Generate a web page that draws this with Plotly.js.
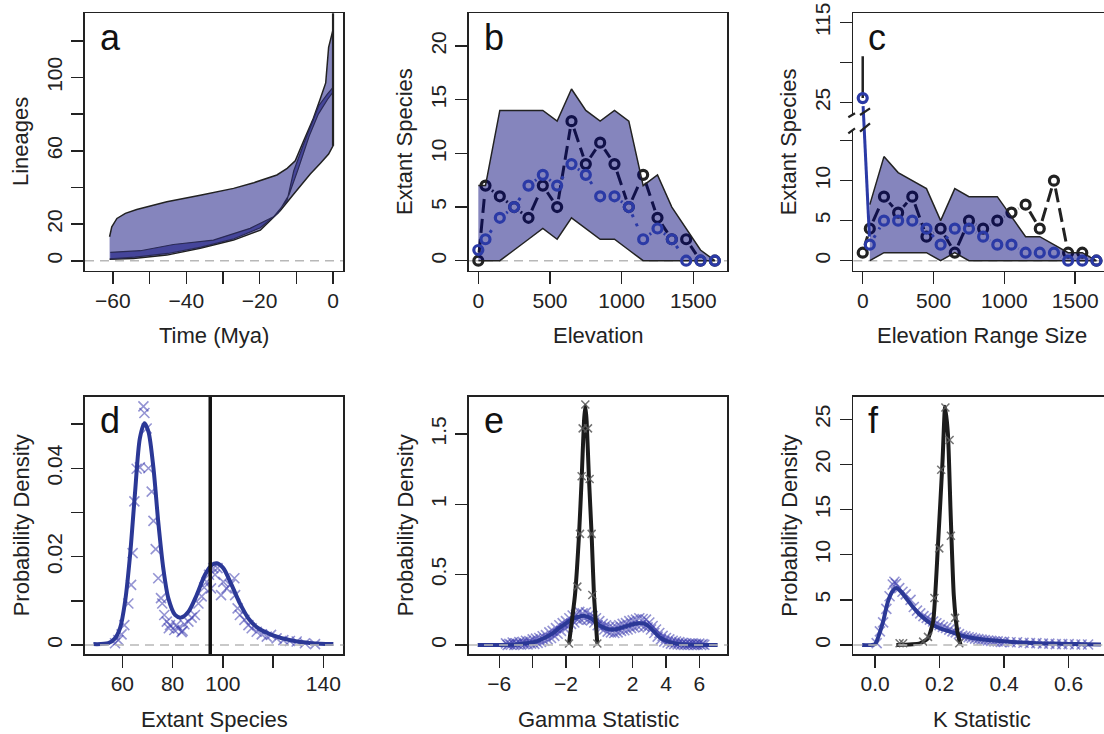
<!DOCTYPE html>
<html><head><meta charset="utf-8">
<script src="https://cdn.plot.ly/plotly-3.0.1.min.js"></script>
<style>html,body{margin:0;padding:0;overflow:hidden;background:#fff}#chart{width:1112px;height:734px}</style>
</head><body><div id="chart"></div>
<script>
// ---------------- DATA ----------------
// Panel a: lineage-through-time envelopes
const aOuterUpperT = [-60.9,-60.3,-58.9,-56.6,-53.5,-45.3,-36.2,-27.1,-21.6,-15.3,-12.5,-10.3,-8.0,-5.5,-3.5,-2.0,-1.2,-0.3,0];
const aOuterUpperN = [13.1,18.5,23.1,25.9,28.0,32.2,35.8,39.5,42.6,46.8,50.4,54.6,65.5,77,88.2,97,116.4,123.7,126];
const aOuterLowerT = [-60.9,-54.4,-45.3,-36.2,-27.1,-19.8,-14.4,-10.7,-6.2,-3.5,-1.2,0];
const aOuterLowerN = [0.8,1.3,3.1,6.8,11.3,16.7,27.3,36.4,47.3,53.1,58.2,62.7];
const aBandUpperT = [-60.7,-52.5,-43.5,-32.6,-22.6,-16.2,-12.5,-10.7,-8.0,-3.9,-1.5,0];
const aBandUpperN = [4.6,5.5,8.9,11.3,17.7,24.0,33,49.1,63.7,84.6,91,94.6];
const aBandLowerT = [-60.7,-54,-45,-36,-27,-19.8,-15,-12,-9.5,-6.5,-4,-1.5,0];
const aBandLowerN = [1,2,4,7.5,12,18,26,36,50,68,80,88,92];
const aObsT = [0,0];
const aObsN = [62.7,200];

// Panel b: species per elevation band
const elevBins = [0,50,150,250,350,450,550,650,750,850,950,1050,1150,1250,1350,1450,1550,1650];
const bObserved = [0,7,6,5,4,7,5,13,9,11,9,5,8,4,2,2,0,0];
const bSimulated = [1,2,4,5,7,8,7,9,8,6,6,5,2,3,2,0,0,0];
const bMax = [7,7,14,14,14,14,13,16,14,13,14,13,7,8,5,3,1,0];
const bMin = [0,0,0,1,2,3,2,4,3,2,2,1,0,0,0,0,0,0];

// Panel c: species per elevation range size
const rangeBins = [0,50,150,250,350,450,550,650,750,850,950,1050,1150,1250,1350,1450,1550,1650];
const cObserved = [1,4,8,6,8,3,4,1,5,4,5,6,7,4,10,1,1,0];
const cSimulated = [30,2,5,5,5,4,2,4,4,3,2,2,1,1,1,0,0,0];
const cEnvBins = [50,150,250,350,450,550,650,750,850,950,1050,1150,1250,1350,1450,1550,1650];
const cMax = [7,13,11,10,9,5,9,8,8,8,5.5,3,3,2,1,1,0];
const cMin = [0,1,1,1,1,0,1,0,0,0,0,0,0,0,0,0,0];
const cSpikeX = [0,0];
const cSpikeY = [77,30];

// Panel d: extant species density
const dCurveX = [48.5,54.4,57.1,59.1,61.1,63.1,65.0,67.0,68.8,70.4,72.4,74.3,76.3,78.3,81.0,83.4,86.3,89.6,92.9,95.6,97.6,100.2,103.5,106.8,110.2,114.1,119.4,127.4,135.4,144.0];
const dCurveY = [0.0002,0.0004,0.0015,0.0038,0.0098,0.0204,0.034,0.0468,0.0502,0.0483,0.040,0.0279,0.0174,0.0106,0.0068,0.0062,0.0075,0.0113,0.0159,0.0181,0.0185,0.0174,0.0136,0.0094,0.006,0.0038,0.0023,0.001,0.0004,0.0002];
const dPtsX = [68.4,68.8,69.7,65.7,67.0,70.4,64.8,71.7,72.4,64.1,73.3,63.5,74.3,62.4,75.4,75.9,60.8,59.7,58.4,57.1,76.7,77.7,79.0,80.7,82.3,83.6,84.7,86.3,87.6,88.9,90.3,91.6,92.6,93.6,94.5,95.3,96.2,96.9,97.9,99.3,100.2,101.5,102.9,104.6,104.9,105.9,106.8,108.6,110.2,111.5,113.5,115.5,117.5,119.2,121.4,124.1,126.7,129.4,132.7,136.7,78.5,81.5,84.0];
const dPtsY = [0.054,0.0525,0.049,0.0399,0.0402,0.040,0.0325,0.0347,0.0281,0.0208,0.0217,0.0136,0.0151,0.0094,0.0106,0.0094,0.0045,0.0024,0.0011,0.0004,0.0068,0.0053,0.0045,0.0034,0.0038,0.0029,0.0047,0.0053,0.0062,0.0068,0.0094,0.011,0.013,0.0143,0.0159,0.0128,0.0174,0.0159,0.0174,0.0113,0.0143,0.0128,0.0136,0.0151,0.0113,0.0083,0.0068,0.0057,0.0045,0.0038,0.003,0.0024,0.0019,0.0023,0.0015,0.0011,0.0009,0.0008,0.0004,0.0002,0.0038,0.0045,0.0032];
const dObserved = 95;

// Panel e: gamma statistic density
const eSimCurveX = [-7.3,-6,-5.2,-4.5,-3.8,-3.3,-2.8,-2.4,-2.0,-1.6,-1.2,-0.9,-0.6,-0.3,0,0.3,0.6,0.9,1.2,1.6,2.0,2.4,2.7,3.0,3.3,3.6,4.0,4.5,5.0,5.5,7.1];
const eSimCurveY = [0,0,0.002,0.01,0.024,0.05,0.083,0.12,0.154,0.185,0.203,0.207,0.195,0.172,0.142,0.122,0.111,0.110,0.118,0.133,0.147,0.155,0.152,0.13,0.095,0.058,0.03,0.012,0.005,0.001,0];
const eSimPtsXA = [-5.6,-5.4,-5.2,-5.0,-4.8,-4.6,-4.4,-4.2,-4.0,-3.8,-3.6,-3.4,-3.2,-3.0,-2.8,-2.6,-2.4,-2.2,-2.0,-1.8,-1.6,-1.4,-1.2,-1.0,-0.8,-0.6,-0.4,-0.2,0.0,0.2,0.4,0.6,0.8,1.0,1.2,1.4,1.6,1.8,2.0,2.2,2.4,2.6,2.8,3.0,3.2,3.4,3.6,3.8,4.0,4.2,4.4,4.6,4.8,5.0,5.2,5.4,5.6,5.8,6.0,6.2];
const eSimPtsYA = [0.012,0.008,0.018,0.012,0.02,0.022,0.03,0.028,0.04,0.045,0.05,0.062,0.07,0.09,0.1,0.12,0.14,0.155,0.17,0.19,0.21,0.215,0.235,0.225,0.232,0.215,0.205,0.19,0.17,0.15,0.14,0.13,0.125,0.13,0.14,0.15,0.155,0.17,0.175,0.18,0.19,0.185,0.18,0.16,0.135,0.11,0.085,0.065,0.05,0.04,0.03,0.025,0.02,0.015,0.012,0.01,0.012,0.008,0.01,0.006];
const eSimPtsXB = [-5.5,-5.3,-5.1,-4.9,-4.7,-4.5,-4.3,-4.1,-3.9,-3.7,-3.5,-3.3,-3.1,-2.9,-2.7,-2.5,-2.3,-2.1,-1.9,-1.7,-1.5,-1.3,-1.1,-0.9,-0.7,-0.5,-0.3,-0.1,0.1,0.3,0.5,0.7,0.9,1.1,1.3,1.5,1.7,1.9,2.1,2.3,2.5,2.7,2.9,3.1,3.3,3.5,3.7,3.9,4.1,4.3,4.5,4.7,4.9,5.1,5.3,5.5,5.7,5.9,6.1,6.3];
const eSimPtsYB = [0.0,0.002,0.0,0.005,0.003,0.006,0.004,0.01,0.008,0.015,0.022,0.03,0.04,0.05,0.065,0.08,0.1,0.12,0.13,0.15,0.16,0.18,0.18,0.19,0.18,0.175,0.16,0.14,0.12,0.11,0.095,0.09,0.085,0.09,0.1,0.105,0.11,0.12,0.125,0.135,0.14,0.13,0.125,0.11,0.085,0.06,0.04,0.025,0.018,0.01,0.006,0.004,0.002,0.001,0.0,0.002,0.0,0.001,0.0,0.002];
const eObsCurveX = [-1.82,-1.46,-1.22,-1.06,-0.92,-0.84,-0.76,-0.62,-0.46,-0.32,-0.12];
const eObsCurveY = [0.01,0.355,0.78,1.18,1.59,1.70,1.59,1.18,0.78,0.355,0.01];
const eObsPtsX = [-1.82,-1.32,-1.16,-1.06,-1.0,-0.84,-0.68,-0.58,-0.46,-0.42,-0.12];
const eObsPtsY = [0.01,0.415,0.79,1.2,1.54,1.71,1.54,1.18,0.79,0.355,0.01];

// Panel f: K statistic density
const fSimCurveX = [-0.04,0.0,0.01,0.025,0.04,0.055,0.066,0.08,0.1,0.12,0.14,0.16,0.18,0.2,0.23,0.26,0.29,0.32,0.35,0.4,0.45,0.5,0.55,0.6,0.65,0.70];
const fSimCurveY = [0,0.1,0.9,2.6,4.8,6.0,6.3,5.9,5.0,4.1,3.3,2.7,2.2,1.85,1.5,1.15,0.85,0.68,0.55,0.4,0.28,0.2,0.15,0.11,0.08,0.06];
const fSimPtsX = [0.005,0.015,0.025,0.035,0.045,0.055,0.06,0.065,0.075,0.085,0.095,0.11,0.12,0.13,0.14,0.15,0.16,0.17,0.18,0.19,0.2,0.21,0.22,0.23,0.24,0.25,0.26,0.27,0.28,0.29,0.3,0.31,0.32,0.33,0.34,0.35,0.36,0.37,0.38,0.39,0.4,0.42,0.44,0.46,0.48,0.5,0.52,0.54,0.56,0.58,0.6,0.62,0.64,0.66];
const fSimPtsY = [0.2,1.5,2.5,4.0,5.4,6.7,7.0,6.8,6.3,5.9,5.6,5.0,4.2,3.8,3.5,3.2,3.0,2.8,2.6,2.4,2.2,2.0,1.9,1.7,1.5,1.4,1.2,1.0,0.95,0.85,0.8,0.7,0.65,0.6,0.55,0.5,0.45,0.4,0.4,0.35,0.35,0.3,0.3,0.25,0.2,0.2,0.15,0.15,0.1,0.1,0.1,0.05,0.05,0.05];
const fObsCurveX = [0.066,0.139,0.164,0.18,0.195,0.209,0.217,0.226,0.234,0.244,0.255,0.265];
const fObsCurveY = [0,0.18,0.74,2.6,11.1,20.3,26.4,23.3,14.8,5.5,1.5,0];
const fObsPtsX = [0.076,0.087,0.149,0.164,0.184,0.199,0.205,0.218,0.231,0.235,0.248,0.261];
const fObsPtsY = [0.2,0.2,0.37,0.9,5.2,10.7,19.4,26.3,22.7,12.1,3.0,0.2];

// ---------------- LAYOUT GEOMETRY ----------------
const W = 1112, H = 734;
const FONT = '"Liberation Sans", Arial, Helvetica, sans-serif';
const INK = '#222';
const boxes = {
  a:[85,343.3,13.3,270.7], b:[469,727.3,13.3,270.7], c:[853.3,1111.6,13.3,270.7],
  d:[85,343.3,396.7,654], e:[469,727.3,396.7,654], f:[853.3,1111.6,396.7,654]
};
const xr = {a:[-67.6,2.8], b:[-65,1737], c:[-66.5,1757], d:[45.15,147.96], e:[-7.82,7.68], f:[-0.0674,0.733]};
const yr = {a:[-5.4,135], b:[-0.93,23.05], c:[-1.25,30.9], d:[-0.00204,0.0562], e:[-0.064,1.765], f:[-1.0,27.5]};
const ids = {a:['x','y'], b:['x2','y2'], c:['x3','y3'], d:['x4','y4'], e:['x5','y5'], f:['x6','y6']};

// broken axis transform for panel c
function cMap(v){ return v <= 15 ? v : 19.75 + (v - 25) / 9; }

function scale(p){ const b=boxes[p]; return [(b[1]-b[0])/(xr[p][1]-xr[p][0]), (b[3]-b[2])/(yr[p][1]-yr[p][0])]; }
// line segments between points with gaps around the circle markers (R type="b")
function gapped(p, xs, ys, r){
  const [sx, sy] = scale(p); const X=[], Y=[];
  for(let i=0;i<xs.length-1;i++){
    const dx=(xs[i+1]-xs[i])*sx, dy=(ys[i+1]-ys[i])*sy, L=Math.hypot(dx,dy);
    if(L <= 2*r) continue;
    const t=r/L;
    X.push(xs[i]+(xs[i+1]-xs[i])*t, xs[i+1]-(xs[i+1]-xs[i])*t, null);
    Y.push(ys[i]+(ys[i+1]-ys[i])*t, ys[i+1]-(ys[i+1]-ys[i])*t, null);
  }
  return [X,Y];
}

const FILL = 'rgba(0,0,118,0.48)';
const BLUE = '#2b3aa6';
const BLUECURVE = '#2b3896';
const CROSS = 'rgba(60,60,175,0.55)';
const traces = [];
function T(p, o){ o.xaxis=ids[p][0]; o.yaxis=ids[p][1]; o.hoverinfo='skip'; o.showlegend=false; traces.push(o); }

// ---- a ----
T('a',{type:'scatter',mode:'lines',x:aOuterUpperT.concat(aOuterLowerT.slice().reverse()),y:aOuterUpperN.concat(aOuterLowerN.slice().reverse()),fill:'toself',fillcolor:FILL,line:{color:INK,width:1.5}});
T('a',{type:'scatter',mode:'lines',x:aBandUpperT.concat(aBandLowerT.slice().reverse()),y:aBandUpperN.concat(aBandLowerN.slice().reverse()),fill:'toself',fillcolor:FILL,line:{color:'#2a2a55',width:1.2}});
T('a',{type:'scatter',mode:'lines',x:aObsT,y:aObsN,line:{color:INK,width:2.2}});

// ---- b ----
{
  const [gx,gy]=gapped('b',elevBins,bObserved,8);
  T('b',{type:'scatter',mode:'lines',x:gx,y:gy,line:{color:INK,width:3,dash:'14px,6px'}});
  T('b',{type:'scatter',mode:'markers',x:elevBins,y:bObserved,marker:{symbol:'circle-open',size:9,color:INK,line:{width:3.2,color:INK}}});
  T('b',{type:'scatter',mode:'lines',x:elevBins.concat(elevBins.slice().reverse()),y:bMax.concat(bMin.slice().reverse()),fill:'toself',fillcolor:FILL,line:{color:INK,width:1.5}});
  const [hx,hy]=gapped('b',elevBins,bSimulated,8);
  T('b',{type:'scatter',mode:'lines',x:hx,y:hy,line:{color:BLUE,width:3,dash:'3px,7px'}});
  T('b',{type:'scatter',mode:'markers',x:elevBins,y:bSimulated,marker:{symbol:'circle-open',size:9,color:BLUE,line:{width:3.2,color:BLUE}}});
}
// ---- c ----
{
  const obsY=cObserved.map(cMap), simY=cSimulated.map(cMap);
  T('c',{type:'scatter',mode:'lines',x:cSpikeX,y:cSpikeY.map(cMap),line:{color:INK,width:2.5}});
  const [gx,gy]=gapped('c',rangeBins,obsY,8);
  T('c',{type:'scatter',mode:'lines',x:gx,y:gy,line:{color:INK,width:3,dash:'14px,6px'}});
  T('c',{type:'scatter',mode:'markers',x:rangeBins,y:obsY,marker:{symbol:'circle-open',size:9,color:INK,line:{width:3.2,color:INK}}});
  T('c',{type:'scatter',mode:'lines',x:cEnvBins.concat(cEnvBins.slice().reverse()),y:cMax.concat(cMin.slice().reverse()),fill:'toself',fillcolor:FILL,line:{color:INK,width:1.5}});
  const [h1x,h1y]=gapped('c',rangeBins.slice(0,2),simY.slice(0,2),8);
  T('c',{type:'scatter',mode:'lines',x:h1x,y:h1y,line:{color:BLUE,width:3}});
  const [hx,hy]=gapped('c',rangeBins.slice(1),simY.slice(1),8);
  T('c',{type:'scatter',mode:'lines',x:hx,y:hy,line:{color:BLUE,width:3,dash:'3px,7px'}});
  T('c',{type:'scatter',mode:'markers',x:rangeBins,y:simY,marker:{symbol:'circle-open',size:9,color:BLUE,line:{width:3.2,color:BLUE}}});
}
// ---- d ----
T('d',{type:'scatter',mode:'markers',x:dPtsX,y:dPtsY,marker:{symbol:'x-thin-open',size:10,color:CROSS,line:{width:1.6,color:CROSS}}});
T('d',{type:'scatter',mode:'lines',x:dCurveX,y:dCurveY,line:{color:BLUECURVE,width:4,shape:'spline',smoothing:0.8}});
// ---- e ----
T('e',{type:'scatter',mode:'markers',x:eSimPtsXA.concat(eSimPtsXB),y:eSimPtsYA.concat(eSimPtsYB),marker:{symbol:'x-thin-open',size:10,color:CROSS,line:{width:1.6,color:CROSS}}});
T('e',{type:'scatter',mode:'lines',x:eSimCurveX,y:eSimCurveY,line:{color:BLUECURVE,width:4,shape:'spline',smoothing:0.8}});
T('e',{type:'scatter',mode:'lines',x:eObsCurveX,y:eObsCurveY,line:{color:'#1c1c1c',width:4,shape:'spline',smoothing:0.5}});
T('e',{type:'scatter',mode:'markers',x:eObsPtsX,y:eObsPtsY,marker:{symbol:'x-thin-open',size:8,color:'rgba(90,90,90,0.85)',line:{width:1.5,color:'rgba(90,90,90,0.85)'}}});
// ---- f ----
T('f',{type:'scatter',mode:'markers',x:fSimPtsX,y:fSimPtsY,marker:{symbol:'x-thin-open',size:10,color:CROSS,line:{width:1.6,color:CROSS}}});
T('f',{type:'scatter',mode:'lines',x:fSimCurveX,y:fSimCurveY,line:{color:BLUECURVE,width:4,shape:'spline',smoothing:0.8}});
T('f',{type:'scatter',mode:'lines',x:fObsCurveX,y:fObsCurveY,line:{color:'#1c1c1c',width:4,shape:'spline',smoothing:0.5}});
T('f',{type:'scatter',mode:'markers',x:fObsPtsX,y:fObsPtsY,marker:{symbol:'x-thin-open',size:8,color:'rgba(90,90,90,0.85)',line:{width:1.5,color:'rgba(90,90,90,0.85)'}}});

// ---------------- AXES ----------------
const tickDefs = {
  a:{xv:[-60,-50,-40,-30,-20,-10,0], xt:['\u221260','','\u221240','','\u221220','','0'], yv:[0,20,40,60,80,100,120], yt:['0','20','','60','','100','']},
  b:{xv:[0,500,1000,1500], xt:['0','500','1000','1500'], yv:[0,5,10,15,20], yt:['0','5','10','15','20']},
  c:{xv:[0,500,1000,1500], xt:['0','500','1000','1500'], yv:[0,5,10,15,19.75,24.75,29.75], yt:['0','5','10','','25','','115']},
  d:{xv:[60,80,100,120,140], xt:['60','80','100','','140'], yv:[0,0.01,0.02,0.03,0.04,0.05], yt:['0','','0.02','','0.04','']},
  e:{xv:[-6,-4,-2,0,2,4,6], xt:['\u22126','','\u22122','','2','4','6'], yv:[0,0.5,1,1.5], yt:['0','0.5','1','1.5']},
  f:{xv:[0,0.2,0.4,0.6], xt:['0.0','0.2','0.4','0.6'], yv:[0,5,10,15,20,25], yt:['0','5','10','15','20','25']}
};
const layout = {
  width:W, height:H, margin:{l:0,r:0,t:0,b:0}, paper_bgcolor:'#fff', plot_bgcolor:'rgba(0,0,0,0)',
  font:{family:FONT, color:INK}, showlegend:false, shapes:[], annotations:[]
};
const common = {ticks:'outside', ticklen:12, tickwidth:1.5, tickcolor:INK, showline:true, linecolor:INK, linewidth:1.6,
  mirror:true, showgrid:false, zeroline:false, tickfont:{family:FONT,size:21,color:INK}, automargin:false, fixedrange:true, tickmode:'array'};
const titles = {
  a:['Time (Mya)','Lineages'], b:['Elevation','Extant Species'], c:['Elevation Range Size','Extant Species'],
  d:['Extant Species','Probability Density'], e:['Gamma Statistic','Probability Density'], f:['K Statistic','Probability Density']
};
for(const p of ['a','b','c','d','e','f']){
  const b=boxes[p], [xi,yi]=ids[p];
  const xk = xi==='x'?'xaxis':'xaxis'+xi.slice(1), yk = yi==='y'?'yaxis':'yaxis'+yi.slice(1);
  layout[xk] = Object.assign({}, common, {domain:[b[0]/W,b[1]/W], range:xr[p], anchor:yi, tickvals:tickDefs[p].xv, ticktext:tickDefs[p].xt, ticklabelstandoff:-2});
  layout[yk] = Object.assign({}, common, {domain:[1-b[3]/H,1-b[2]/H], range:yr[p], anchor:xi, tickvals:tickDefs[p].yv, ticktext:tickDefs[p].yt, tickangle:-90, ticklabelstandoff:1});
  // dashed zero line
  layout.shapes.push({type:'line', xref:xi+' domain', yref:yi, x0:0, x1:1, y0:0, y1:0,
    line:{color:'#b8b8b8', width:1.6, dash:'9px,6px'}, layer:(p==='d'||p==='e'||p==='f')?'above':'below'});
  // axis titles
  layout.annotations.push({xref:'paper', yref:'paper', x:((b[0]+b[1])/2)/W, y:1-(b[3]+65)/H, text:titles[p][0], showarrow:false,
    xanchor:'center', yanchor:'middle', font:{family:FONT,size:22,color:INK}});
  layout.annotations.push({xref:'paper', yref:'paper', x:(b[0]-64)/W, y:1-((b[2]+b[3])/2)/H, text:titles[p][1], showarrow:false,
    textangle:-90, xanchor:'center', yanchor:'middle', font:{family:FONT,size:22,color:INK}});
  // panel letter
  layout.annotations.push({xref:'paper', yref:'paper', x:(b[0]+13)/W, y:1-(b[2]+24)/H, text:p, showarrow:false,
    xanchor:'left', yanchor:'middle', font:{family:FONT,size:36,color:'#111'}});
}
// observed value line in panel d
layout.shapes.push({type:'line', xref:'x4', yref:'y4 domain', x0:dObserved, x1:dObserved, y0:0, y1:1, line:{color:'#111', width:3.5}, layer:'above'});
// axis break marks in panel c
function P(x,y){ return [x/W, 1-y/H]; }
{
  const m1=P(845,134), m2=P(857,129), m3=P(857,113), m4=P(845,118);
  layout.shapes.push({type:'path', xref:'paper', yref:'paper', path:`M${m1[0]},${m1[1]} L${m2[0]},${m2[1]} L${m3[0]},${m3[1]} L${m4[0]},${m4[1]} Z`, fillcolor:'#fff', line:{width:0}, layer:'above'});
  const segs=[[848.3,117.3,855,113.3],[848.3,133.3,855,128.3],[860,115,870,108.3],[860,131.7,870,123.3]];
  for(const s of segs){ const a=P(s[0],s[1]), c=P(s[2],s[3]);
    layout.shapes.push({type:'line', xref:'paper', yref:'paper', x0:a[0], y0:a[1], x1:c[0], y1:c[1], line:{color:INK,width:2.2}, layer:'above'}); }
}
Plotly.newPlot('chart', traces, layout, {staticPlot:true, displayModeBar:false});
</script></body></html>
